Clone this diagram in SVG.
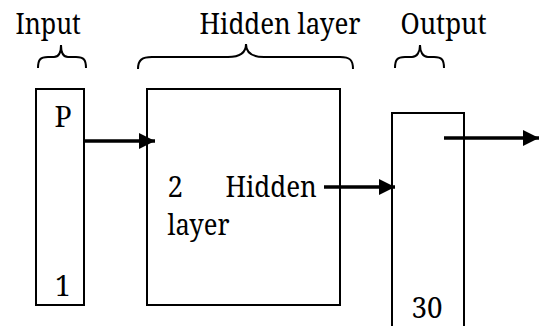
<svg xmlns="http://www.w3.org/2000/svg" width="542" height="326" viewBox="0 0 542 326">
<style>
text{font-family:"Noto Serif","DejaVu Serif","Liberation Serif",serif;font-size:29px;fill:#000}
.box{fill:none;stroke:#000;stroke-width:2}
.brace{fill:none;stroke:#000;stroke-width:2}
.conn{stroke:#000;stroke-width:3.5;fill:none}
</style>
<defs>
<marker id="ah" markerUnits="userSpaceOnUse" markerWidth="18" markerHeight="18" refX="16" refY="8.5" orient="auto" overflow="visible">
<path d="M0,0.5 L16,8.5 L0,16.5 Z" fill="#000"/>
</marker>
</defs>
<rect width="542" height="326" fill="#fff"/>
<g id="labels">
<text x="15.5" y="34" textLength="65.4" lengthAdjust="spacingAndGlyphs">Input</text>
<text x="199.5" y="34" textLength="161" lengthAdjust="spacingAndGlyphs">Hidden layer</text>
<text x="400.5" y="34" textLength="86.1" lengthAdjust="spacingAndGlyphs">Output</text>
<path class="brace" d="M38,68 C38,60 40,57 48,57 L54,57 C59,57 61,52 61,45 C61,52 63,57 68,57 L76,57 C84,57 86,60 86,68"/>
<path class="brace" d="M138,69 C138,60 142,57 152,57 L228,57 C240,57 246,52 246,44 C246,52 252,57 264,57 L340,57 C350,57 353,60 353,69"/>
<path class="brace" d="M395,68 C395,60 397,57 405,57 L412,57 C417,57 420,52 420,45 C420,52 423,57 428,57 L434,57 C442,57 444,60 444,68"/>
</g>
<g id="input">
<rect class="box" x="36" y="89" width="48" height="216"/>
<text x="54.5" y="127" textLength="17.2" lengthAdjust="spacingAndGlyphs">P</text>
<text x="55" y="296" textLength="15.5" lengthAdjust="spacingAndGlyphs">1</text>
</g>
<g id="hidden">
<rect class="box" x="147" y="89" width="193" height="216"/>
<text x="167.5" y="197" textLength="15.5" lengthAdjust="spacingAndGlyphs">2</text>
<text x="225.5" y="197" textLength="91.3" lengthAdjust="spacingAndGlyphs">Hidden</text>
<text x="167.5" y="235" textLength="62" lengthAdjust="spacingAndGlyphs">layer</text>
</g>
<g id="output">
<path class="box" d="M392,330 V113 H464 V330"/>
<text x="411.5" y="318" textLength="31" lengthAdjust="spacingAndGlyphs">30</text>
</g>
<g id="connectors">
<line class="conn" x1="84" y1="141" x2="155" y2="141" marker-end="url(#ah)"/>
<line class="conn" x1="324" y1="187" x2="395" y2="187" marker-end="url(#ah)"/>
<line class="conn" x1="444" y1="138" x2="539" y2="138" marker-end="url(#ah)"/>
</g>
</svg>
